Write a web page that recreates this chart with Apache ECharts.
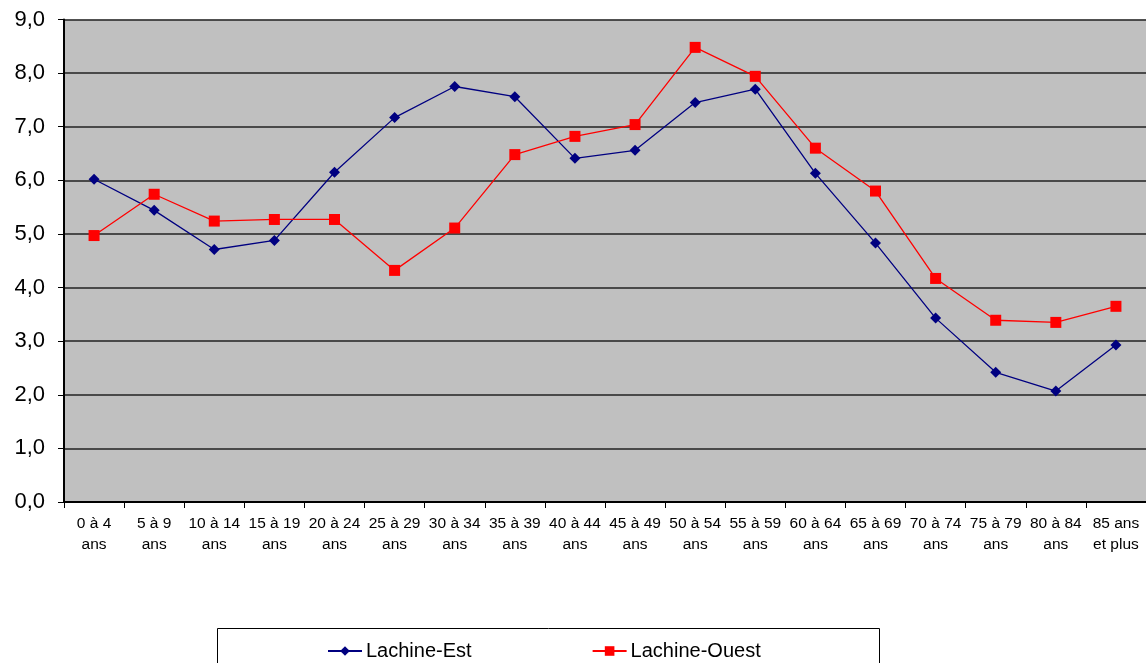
<!DOCTYPE html>
<html>
<head>
<meta charset="utf-8">
<script src="https://cdn.jsdelivr.net/npm/echarts@6/dist/echarts.min.js"></script>
<style>html,body{margin:0;padding:0;background:#fff;}#c{width:1146px;height:663px;}</style>
</head>
<body>
<div id="c"></div>
<script>
const categories = ['0 à 4\nans','5 à 9\nans','10 à 14\nans','15 à 19\nans','20 à 24\nans','25 à 29\nans','30 à 34\nans','35 à 39\nans','40 à 44\nans','45 à 49\nans','50 à 54\nans','55 à 59\nans','60 à 64\nans','65 à 69\nans','70 à 74\nans','75 à 79\nans','80 à 84\nans','85 ans\net plus'];
const lachineEst = [6.02,5.44,4.71,4.88,6.15,7.17,7.75,7.56,6.41,6.56,7.45,7.70,6.13,4.83,3.43,2.42,2.07,2.93];
const lachineOuest = [4.97,5.74,5.24,5.27,5.27,4.32,5.11,6.48,6.82,7.04,8.48,7.94,6.60,5.80,4.17,3.39,3.35,3.65];
const seriesNames = ['Lachine-Est','Lachine-Ouest'];

const chart = echarts.init(document.getElementById('c'));
chart.setOption({
  animation: false,
  backgroundColor: '#fff',
  textStyle: {fontFamily: 'Liberation Sans, Arial, sans-serif'},
  grid: {left: 64, top: 19.5, right: 0, bottom: 161, backgroundColor: '#c0c0c0', show: true, borderWidth: 0},
  graphic: [{
    type: 'rect', shape: {x: 217.5, y: 628.5, width: 662, height: 50},
    style: {fill: '#fff', stroke: '#000', lineWidth: 1}, z: 0
  }],
  legend: {
    data: seriesNames, left: 322, top: 636, itemGap: 120, itemWidth: 34, itemHeight: 12,
    textStyle: {fontSize: 20, color: '#000', fontFamily: 'Liberation Sans, Arial, sans-serif', padding: [0,0,0,-1]}, z: 5
  },
  xAxis: {
    type: 'category', data: categories, boundaryGap: true,
    axisLine: {lineStyle: {color: '#000', width: 2}},
    axisTick: {show: true, length: 6, lineStyle: {color: '#000', width: 1}},
    axisLabel: {color: '#000', fontSize: 15.5, lineHeight: 21, interval: 0, margin: 11}
  },
  yAxis: {
    type: 'value', min: 0, max: 9, interval: 1,
    axisLine: {show: true, lineStyle: {color: '#000', width: 2}},
    axisTick: {show: true, length: 6, lineStyle: {color: '#000'}},
    axisLabel: {color: '#000', fontSize: 22, margin: 19, formatter: v => v.toFixed(1).replace('.', ',')},
    splitLine: {show: true, lineStyle: {color: '#222', width: 1.5}}
  },
  series: [
    {name: seriesNames[0], type: 'line', data: lachineEst, symbol: 'diamond', symbolSize: 11,
     itemStyle: {color: '#000080'}, lineStyle: {color: '#000080', width: 1.3}, z: 3},
    {name: seriesNames[1], type: 'line', data: lachineOuest, symbol: 'rect', symbolSize: 11,
     itemStyle: {color: '#ff0000'}, lineStyle: {color: '#ff0000', width: 1.3}, z: 3}
  ]
});
</script>
</body>
</html>
